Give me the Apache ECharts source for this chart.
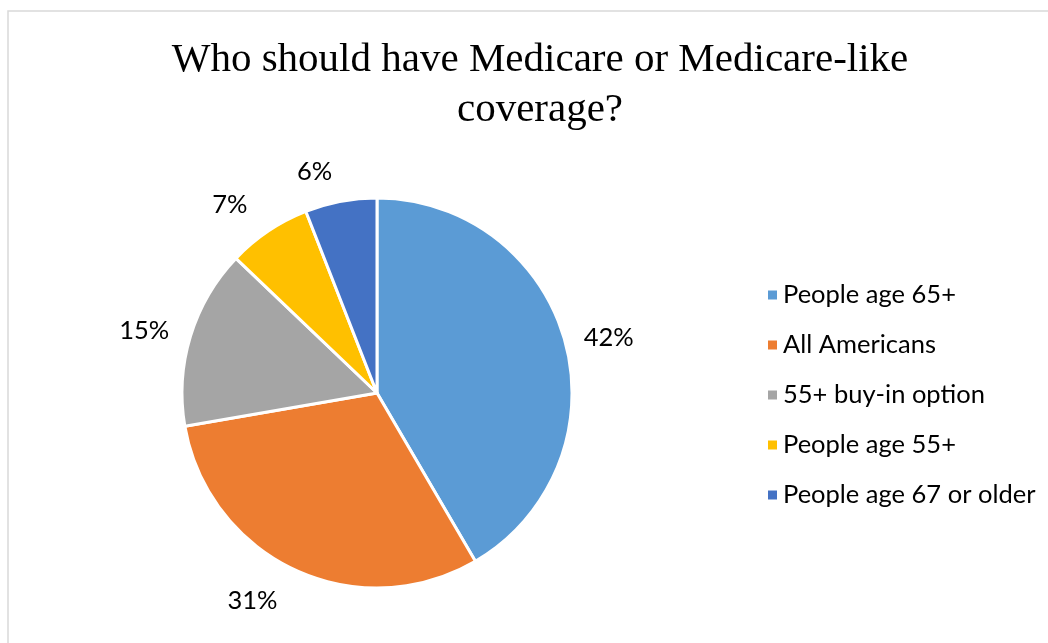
<!DOCTYPE html>
<html>
<head>
<meta charset="utf-8">
<script src="https://cdn.jsdelivr.net/npm/echarts@6/dist/echarts.min.js"></script>
<style>
html,body{margin:0;padding:0;background:#fff;}
#chart{width:1048px;height:643px;}
</style>
</head>
<body>
<div id="chart"></div>
<script>
const titleText = 'Who should have Medicare or Medicare-like\ncoverage?';
const categories = ['People age 65+', 'All Americans', '55+ buy-in option', 'People age 55+', 'People age 67 or older'];
const values = [42, 31, 15, 7, 6];
const colors = ['#5B9BD5', '#ED7D31', '#A5A5A5', '#FFC000', '#4472C4'];

// per-slice label distance tweaks (style only)
const labelDist = {'People age 65+': 16, 'All Americans': 34, '55+ buy-in option': 19, 'People age 55+': 32, 'People age 67 or older': 30};

const chart = echarts.init(document.getElementById('chart'));
chart.setOption({
  backgroundColor: '#ffffff',
  animation: false,
  color: colors,
  graphic: [{
    type: 'rect',
    shape: {x: 8, y: 11, width: 1100, height: 700},
    style: {fill: 'none', stroke: '#D9D9D9', lineWidth: 1.5},
    silent: true, z: -10
  }],
  title: {
    text: titleText,
    left: 535,
    top: 30,
    textAlign: 'center',
    textStyle: {
      fontFamily: 'Liberation Serif',
      fontWeight: 'normal',
      fontSize: 41,
      lineHeight: 50,
      color: '#000'
    }
  },
  legend: {
    orient: 'vertical',
    left: 761,
    top: 277,
    itemWidth: 11,
    itemHeight: 11,
    itemGap: 24,
    icon: 'rect',
    textStyle: {fontFamily: 'Lato', fontSize: 25.5, lineHeight: 25.5, color: '#000', padding: [0,0,0,0]},
    data: categories
  },
  series: [{
    type: 'pie',
    center: [377, 393],
    radius: [0, 195],
    startAngle: 90,
    clockwise: true,
    avoidLabelOverlap: false,
    data: categories.map((c, i) => ({name: c, value: values[i], labelLine: {length: labelDist[c]}})),
    itemStyle: {borderColor: '#fff', borderWidth: 3},
    label: {
      show: true,
      position: 'outside',
      formatter: p => p.value + '%',
      fontFamily: 'Lato',
      fontSize: 25.5,
      color: '#000',
      distanceToLabelLine: 3
    },
    labelLine: {show: false, length: 24, length2: 0}
  }]
});
</script>
</body>
</html>
